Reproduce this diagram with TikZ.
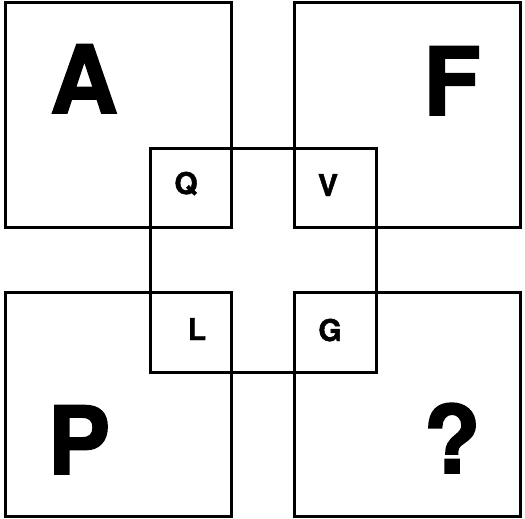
\documentclass[tikz,border=0pt]{standalone}
\usepackage{fontspec}
\setmainfont{TeX Gyre Heros}
\newfontfamily\heavyfont[BoldFeatures={FakeBold=1.6}]{TeX Gyre Heros}
\usetikzlibrary{positioning}

\begin{document}
\begin{tikzpicture}[
    x=1pt, y=-1pt,
    frame/.style={draw, line width=3pt, minimum width=226pt, minimum height=224pt, inner sep=0pt, outer sep=0pt},
    bigletter/.style={anchor=base, inner sep=0pt, font=\fontsize{94}{94}\heavyfont\bfseries},
    smallletter/.style={anchor=base, inner sep=0pt, font=\fontsize{30}{30}\heavyfont\bfseries},
]
    \useasboundingbox (0,0) rectangle (525,519);

    % Squares
    \node[frame] (sqA) at (118, 115) {};
    \node[frame] (sqF) at (407, 115) {};
    \node[frame] (sqP) at (118, 404.5) {};
    \node[frame] (sqQ) at (407, 404.5) {};
    \node[frame] (mid) at (263, 260) {};

    % Letters
    \node[bigletter] (la) at (84, 113) {A};
    \node[bigletter] (lf) at (452, 115) {F};
    \node[bigletter] (lp) at (79, 474) {P};
    \node[bigletter] (lq) at (452, 473) {?};

    \node[smallletter] (sq) at (186, 194) {Q};
    \node[smallletter] (sv) at (328, 196) {V};
    \node[smallletter] (sl) at (197, 340) {L};
    \node[smallletter] (sg) at (330, 341) {G};

\end{tikzpicture}
\end{document}
